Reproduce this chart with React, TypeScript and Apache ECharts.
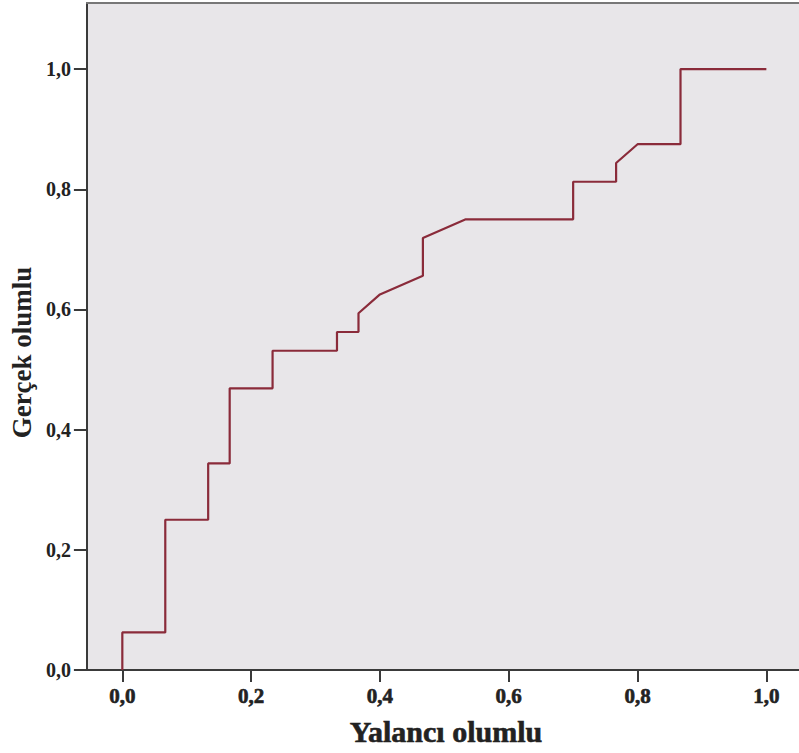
import React, { useEffect, useRef } from "react";
import * as echarts from "echarts";

// ROC curve points (1 - specificity, sensitivity)
const falsePositiveRate = [
  0, 0, 0.0667, 0.0667, 0.1333, 0.1333, 0.1667, 0.1667, 0.2333, 0.2333,
  0.3333, 0.3333, 0.3667, 0.3667, 0.4, 0.4667, 0.4667, 0.5333, 0.7, 0.7,
  0.7667, 0.7667, 0.8, 0.8667, 0.8667, 1.0,
];
const truePositiveRate = [
  0, 0.0625, 0.0625, 0.25, 0.25, 0.34375, 0.34375, 0.46875, 0.46875, 0.53125,
  0.53125, 0.5625, 0.5625, 0.59375, 0.625, 0.65625, 0.71875, 0.75, 0.75, 0.8125,
  0.8125, 0.84375, 0.875, 0.875, 1.0, 1.0,
];
const tickValues = [0, 0.2, 0.4, 0.6, 0.8, 1.0];
const xAxisTitle = "Yalancı olumlu";
const yAxisTitle = "Gerçek olumlu";

const fmt = (v: number) => v.toFixed(1).replace(".", ",");

export default function App() {
  const ref = useRef<HTMLDivElement>(null);
  useEffect(() => {
    if (!ref.current) return;
    const chart = echarts.init(ref.current, null, { renderer: "svg" });
    const font = "'Liberation Serif', 'Times New Roman', serif";
    const ink = "#222222";
    const xMin = -0.055;
    const xMax = 1.06;
    chart.setOption({
      animation: false,
      backgroundColor: "#ffffff",
      grid: {
        left: 86,
        top: 3,
        width: 719,
        bottom: 83,
        show: true,
        backgroundColor: "#e8e6e9",
        borderWidth: 0,
      },
      xAxis: [
        {
          type: "value",
          min: xMin,
          max: xMax,
          name: xAxisTitle,
          nameLocation: "middle",
          nameGap: 46,
          nameTextStyle: {
            fontFamily: font,
            fontWeight: "bold",
            fontSize: 30,
            color: ink,
            textBorderColor: ink,
            textBorderWidth: 0.6,
          },
          axisLine: { show: true, onZero: false, lineStyle: { color: "#3a3a3a", width: 2 } },
          axisTick: {
            show: true,
            length: 12,
            customValues: tickValues,
            lineStyle: { color: "#3a3a3a", width: 2 },
          },
          axisLabel: {
            customValues: tickValues,
            formatter: (v: number) => fmt(v),
            margin: 15,
            fontFamily: font,
            fontWeight: "bold",
            fontSize: 21,
            color: ink,
            textBorderColor: ink,
            textBorderWidth: 0.6,
          },
          splitLine: { show: false },
        },
        {
          type: "value",
          position: "top",
          min: xMin,
          max: xMax,
          axisLine: { show: true, onZero: false, lineStyle: { color: "#777777", width: 2 } },
          axisTick: { show: false },
          axisLabel: { show: false },
          splitLine: { show: false },
        },
      ],
      yAxis: {
        type: "value",
        min: 0,
        max: 1.11,
        name: yAxisTitle,
        nameLocation: "middle",
        nameGap: 49,
        nameTextStyle: {
          fontFamily: font,
          fontWeight: "bold",
          fontSize: 27,
          color: ink,
          padding: [0, 32, 0, 0],
        },
        axisLine: { show: true, onZero: false, lineStyle: { color: "#3a3a3a", width: 2 } },
        axisTick: {
          show: true,
          length: 13,
          customValues: tickValues,
          lineStyle: { color: "#3a3a3a", width: 2 },
        },
        axisLabel: {
          customValues: tickValues,
          formatter: (v: number) => fmt(v),
          margin: 16,
          fontFamily: font,
          fontWeight: "bold",
          fontSize: 20,
          color: ink,
        },
        splitLine: { show: false },
      },
      series: [
        {
          type: "line",
          xAxisIndex: 0,
          data: falsePositiveRate.map((x, i) => [x, truePositiveRate[i]]),
          symbol: "none",
          lineStyle: { color: "#8a2b3a", width: 2.2 },
          clip: true,
        },
      ],
    });
    return () => chart.dispose();
  }, []);
  return (
    <div style={{ position: "fixed", left: 0, top: 0, width: 799, height: 753, overflow: "hidden" }}>
      <div ref={ref} style={{ width: 806, height: 753 }} />
    </div>
  );
}
